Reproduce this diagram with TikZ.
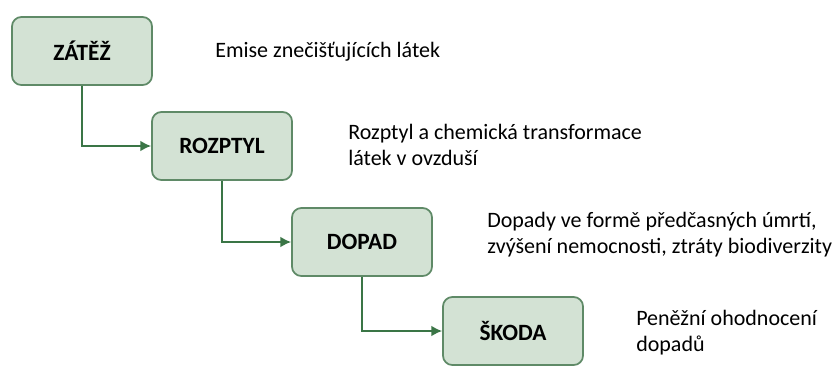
\documentclass[tikz,border=0pt]{standalone}
\usepackage{fontspec}
\setmainfont{Carlito}
\usetikzlibrary{arrows.meta}
\definecolor{boxfill}{HTML}{D3E2D4}
\definecolor{boxline}{HTML}{5F8A67}
\definecolor{arrowline}{HTML}{3A7546}
\tikzset{
    box/.style={draw=boxline, fill=boxfill, rounded corners=7pt, line width=1.3pt,
    	minimum width=105pt, minimum height=51pt, font=\fontsize{17.5}{19}\selectfont\bfseries}
}
\tikzset{
    note/.style={anchor=west, align=left, inner sep=0pt, font=\fontsize{16.5}{19.5}\selectfont}
}
\tikzset{
	link/.style={draw=arrowline, line width=1.4pt, -{Latex[length=8pt, width=8pt]}}
}

\begin{document}
\begin{tikzpicture}[x=0.75pt, y=-0.75pt]
	\useasboundingbox (0,0) rectangle (832,365);
	\node (1) [box] at (82, 51) {ZÁTĚŽ};
	\node (2) [box] at (222, 146) {ROZPTYL};
	\node (3) [box] at (362, 242) {DOPAD};
	\node (4) [box] at (513, 331) {ŠKODA};
	
	\node (t1) [note] at (215, 52) {Emise znečišťujících látek};
	\node (t2) [note] at (348, 145) {Rozptyl a chemická transformace\\látek v ovzduší};
	\node (t3) [note] at (487, 235) {Dopady ve formě předčasných úmrtí,\\zvýšení nemocnosti, ztráty biodiverzity};
	\node (t4) [note] at (636, 333) {Peněžní ohodnocení\\dopadů};
	
	\draw [link] (1.south) |- (2.west); \draw [link] (2.south) |- (3.west);
	\draw [link] (3.south) |- (4.west);
\end{tikzpicture}
\end{document}
